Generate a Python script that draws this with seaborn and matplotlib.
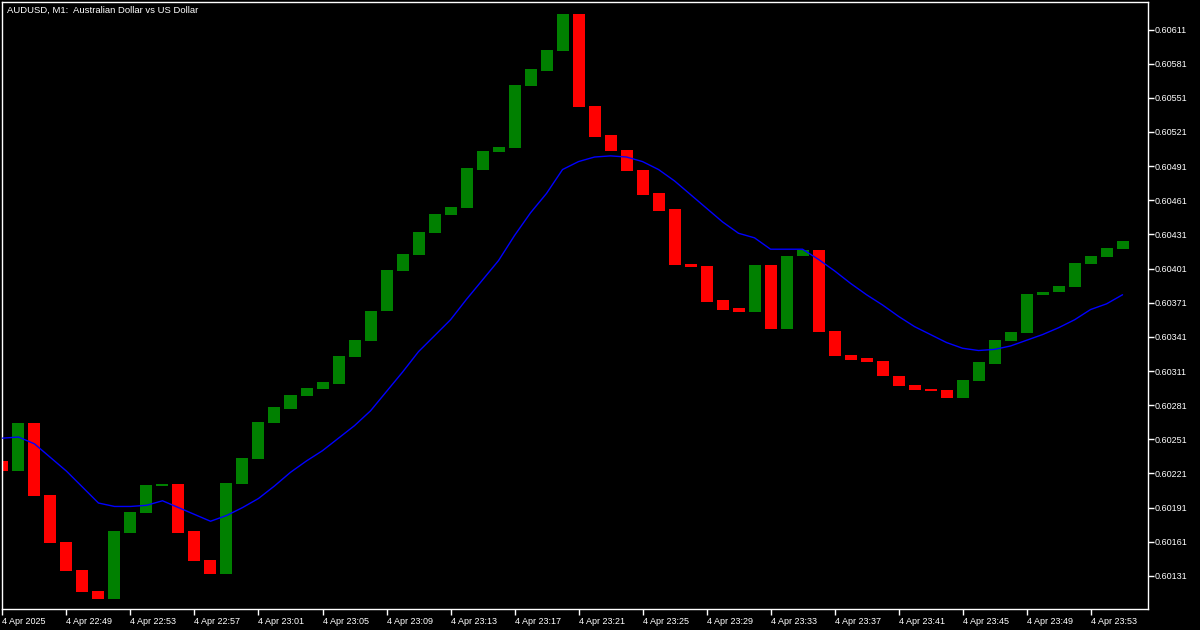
import numpy as np
import pandas as pd
import matplotlib
matplotlib.use("Agg")
import matplotlib.pyplot as plt
import seaborn as sns

# AUDUSD M1 candles, 22:45 .. 23:55 (body only: open / close)
opens = [0.60232, 0.60223, 0.60265, 0.60202, 0.60161, 0.60136, 0.60118, 0.60111, 0.60169, 0.60186,
         0.60210, 0.60212, 0.60170, 0.60145, 0.60133, 0.60212, 0.60234, 0.60265, 0.60278, 0.60289,
         0.60295, 0.60300, 0.60323, 0.60337, 0.60364, 0.60399, 0.60413, 0.60432, 0.60448, 0.60454,
         0.60488, 0.60503, 0.60507, 0.60561, 0.60575, 0.60592, 0.60625, 0.60544, 0.60518, 0.60505,
         0.60488, 0.60467, 0.60453, 0.60405, 0.60403, 0.60373, 0.60366, 0.60363, 0.60404, 0.60348,
         0.60412, 0.60417, 0.60346, 0.60325, 0.60322, 0.60320, 0.60307, 0.60299, 0.60295, 0.60294,
         0.60287, 0.60302, 0.60317, 0.60337, 0.60344, 0.60378, 0.60380, 0.60385, 0.60405, 0.60411,
         0.60418]
closes = [0.60223, 0.60265, 0.60201, 0.60160, 0.60135, 0.60117, 0.60111, 0.60170, 0.60187, 0.60211,
          0.60212, 0.60169, 0.60144, 0.60133, 0.60213, 0.60235, 0.60266, 0.60279, 0.60290, 0.60296,
          0.60301, 0.60324, 0.60338, 0.60364, 0.60400, 0.60414, 0.60433, 0.60449, 0.60455, 0.60489,
          0.60504, 0.60508, 0.60562, 0.60576, 0.60593, 0.60625, 0.60543, 0.60517, 0.60504, 0.60487,
          0.60466, 0.60452, 0.60404, 0.60402, 0.60372, 0.60365, 0.60363, 0.60404, 0.60348, 0.60412,
          0.60417, 0.60345, 0.60324, 0.60321, 0.60319, 0.60307, 0.60298, 0.60294, 0.60293, 0.60287,
          0.60303, 0.60319, 0.60338, 0.60345, 0.60379, 0.60380, 0.60386, 0.60406, 0.60412, 0.60419,
          0.60425]
# moving average (blue line)
ma = [0.60252, 0.60253, 0.60247, 0.60235, 0.60223, 0.60209, 0.60195, 0.60192, 0.60192, 0.60193,
      0.60197, 0.60191, 0.60185, 0.60179, 0.60184, 0.60191, 0.60199, 0.60210, 0.60222, 0.60232,
      0.60241, 0.60252, 0.60263, 0.60276, 0.60293, 0.60310, 0.60328, 0.60342, 0.60356, 0.60374,
      0.60391, 0.60408, 0.60430, 0.60450, 0.60467, 0.60488, 0.60495, 0.60499, 0.60500, 0.60499,
      0.60495, 0.60488, 0.60478, 0.60466, 0.60454, 0.60442, 0.60432, 0.60428, 0.60418, 0.60418,
      0.60418, 0.60409, 0.60399, 0.60388, 0.60378, 0.60369, 0.60359, 0.60350, 0.60343, 0.60336,
      0.60331, 0.60329, 0.60330, 0.60333, 0.60338, 0.60343, 0.60349, 0.60356, 0.60365, 0.60370,
      0.60378]

xtick_labels = ["4 Apr 2025", "4 Apr 22:49", "4 Apr 22:53", "4 Apr 22:57", "4 Apr 23:01",
                "4 Apr 23:05", "4 Apr 23:09", "4 Apr 23:13", "4 Apr 23:17", "4 Apr 23:21",
                "4 Apr 23:25", "4 Apr 23:29", "4 Apr 23:33", "4 Apr 23:37", "4 Apr 23:41",
                "4 Apr 23:45", "4 Apr 23:49", "4 Apr 23:53"]
ytick_values = [0.60131, 0.60161, 0.60191, 0.60221, 0.60251, 0.60281, 0.60311, 0.60341,
                0.60371, 0.60401, 0.60431, 0.60461, 0.60491, 0.60521, 0.60551, 0.60581, 0.60611]

df = pd.DataFrame({"open": opens, "close": closes, "ma": ma})
df["bar"] = np.arange(len(df))
df["up"] = df["close"] >= df["open"]

sns.set_style("dark", {"axes.facecolor": "black", "figure.facecolor": "black"})
plt.rcParams["font.family"] = ["Liberation Sans", "DejaVu Sans"]

fig = plt.figure(figsize=(12, 6.3), dpi=100, facecolor="black")
ax = fig.add_axes([2 / 1200, 21 / 630, 1146 / 1200, 607 / 630])
ax.set_facecolor("black")

# candle bodies
colors = np.where(df["up"], "#008000", "#ff0000")
lo = np.minimum(df["open"], df["close"])
hi = np.maximum(df["open"], df["close"])
ax.bar(df["bar"], hi - lo, bottom=lo, width=0.75, color=colors, linewidth=0, zorder=2)

# moving average
sns.lineplot(data=df, x="bar", y="ma", color="#0000ff", linewidth=1, ax=ax, zorder=3)

ax.set_xlim(-0.03, 71.59)
ax.set_ylim(0.601019, 0.606352)

ax.set_xticks(df["bar"][::4])
ax.set_xticklabels(xtick_labels, ha="left")
ax.yaxis.tick_right()
ax.set_yticks(ytick_values)
ax.set_yticklabels([f"{v:.5f}" for v in ytick_values])
ax.tick_params(axis="both", colors="white", labelcolor="white", length=4, width=1,
               direction="out", labelsize=6.5)
ax.tick_params(axis="y", pad=1, left=False, right=True)
ax.tick_params(axis="x", pad=2, bottom=True)
ax.set_xlabel("")
ax.set_ylabel("")
ax.grid(False)

for sp in ax.spines.values():
    sp.set_visible(True)
    sp.set_color("white")
    sp.set_linewidth(1)

ax.text(0.004, 0.993, "AUDUSD, M1:  Australian Dollar vs US Dollar", transform=ax.transAxes,
        color="white", fontsize=6.8, ha="left", va="top")

fig.savefig("out.png", dpi=100, facecolor="black")
